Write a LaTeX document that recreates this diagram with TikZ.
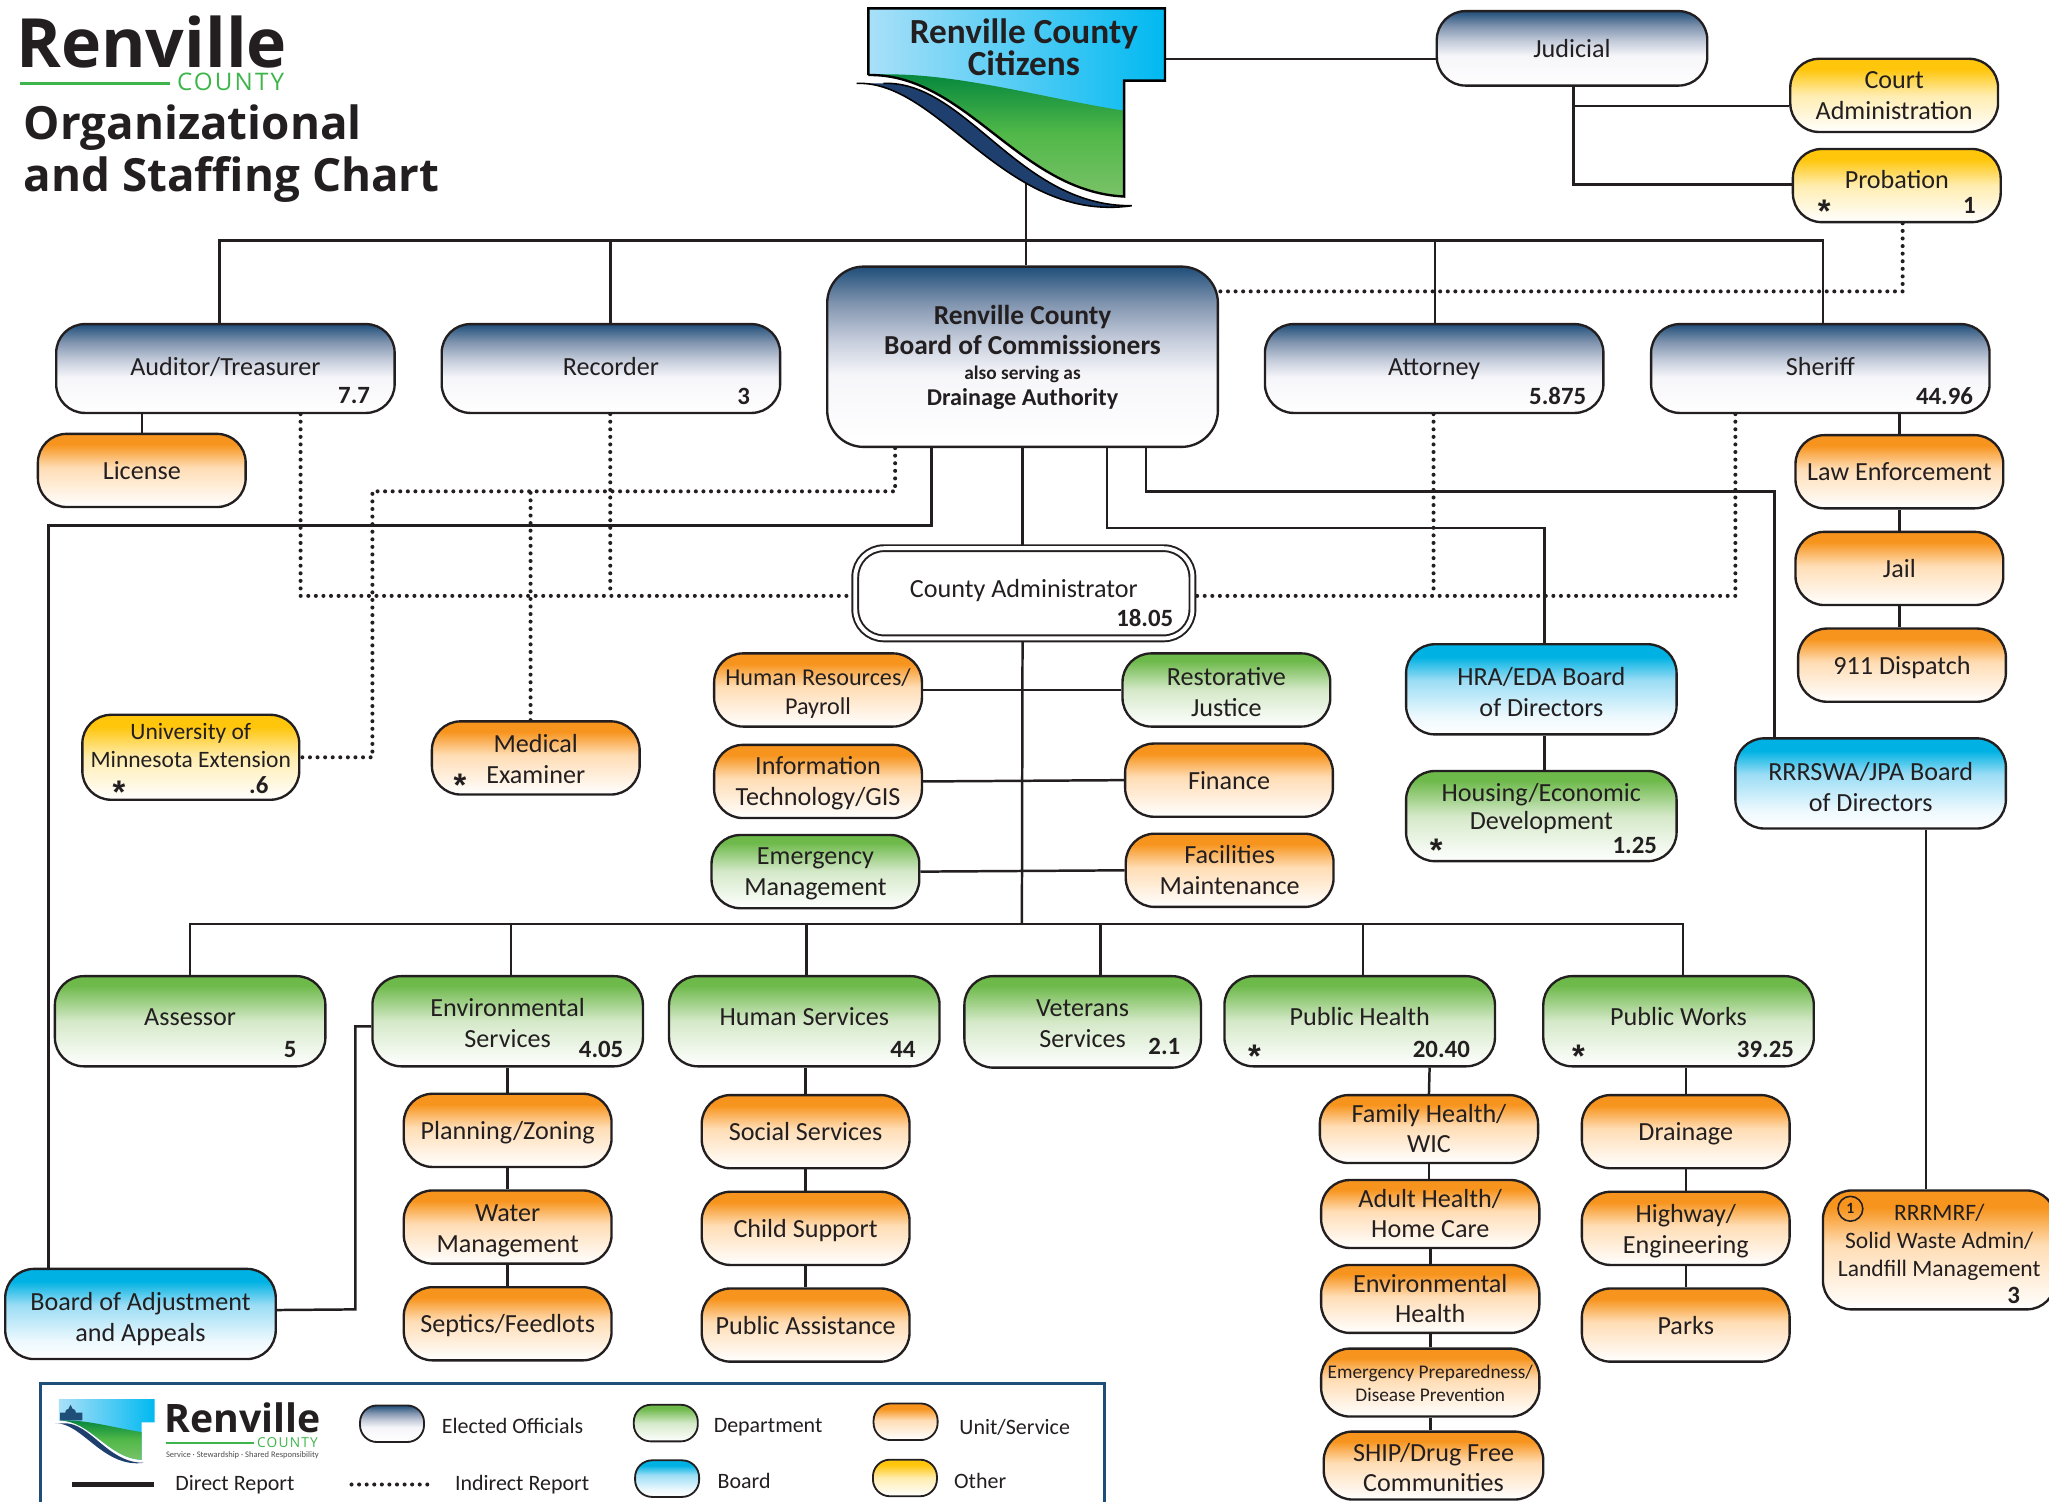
\documentclass[tikz,border=0pt]{standalone}
\usepackage{fontspec}
\setmainfont{Carlito}
\newfontfamily\logofont{Open Sans}
\newfontfamily\countyfont{Open Sans}[LetterSpace=9]
\newfontfamily\markfont{Liberation Sans}
\usetikzlibrary{positioning, backgrounds}

\definecolor{inkcolor}{HTML}{231F20}
\definecolor{navycolor}{HTML}{1F4E79}
\definecolor{logogreen}{HTML}{3DB54A}
\definecolor{elecmid}{HTML}{C3CBDA}
\definecolor{elechigh}{HTML}{7F93AE}
\definecolor{eleclow}{HTML}{F6F6FA}
\definecolor{orangetop}{HTML}{F7941D}
\definecolor{orangemid}{HTML}{FFDDB5}
\definecolor{greentop}{HTML}{6DB94A}
\definecolor{greenmid}{HTML}{D5E9C9}
\definecolor{bluetop}{HTML}{00B2E3}
\definecolor{bluemid}{HTML}{9BDDF5}
\definecolor{bluelow}{HTML}{EDF9FE}
\definecolor{yellowtop}{HTML}{FFC60B}
\definecolor{yellowmid}{HTML}{FFEDB0}
\definecolor{flagsky}{HTML}{A9E0F8}
\definecolor{flagcyan}{HTML}{00B9F1}
\definecolor{flagdark}{HTML}{00843D}
\definecolor{flagmid}{HTML}{50B848}
\definecolor{flaglight}{HTML}{7AC268}
\definecolor{flagnavy}{HTML}{1F3F6E}

\pgfdeclareverticalshading{electedfill}{100bp}{color(0bp)=(white); color(25bp)=(white); color(45bp)=(eleclow); color(55bp)=(elecmid); color(65bp)=(elechigh); color(75bp)=(navycolor); color(100bp)=(navycolor)}
\pgfdeclareverticalshading{unitfill}{100bp}{color(0bp)=(white); color(25bp)=(white); color(52bp)=(orangemid); color(68bp)=(orangetop); color(100bp)=(orangetop)}
\pgfdeclareverticalshading{deptfill}{100bp}{color(0bp)=(white); color(25bp)=(white); color(50bp)=(greenmid); color(70bp)=(greentop); color(100bp)=(greentop)}
\pgfdeclareverticalshading{boardfill}{100bp}{color(0bp)=(white); color(25bp)=(white); color(35bp)=(bluelow); color(55bp)=(bluemid); color(68bp)=(bluetop); color(100bp)=(bluetop)}
\pgfdeclareverticalshading{otherfill}{100bp}{color(0bp)=(white); color(25bp)=(white); color(50bp)=(yellowmid); color(68bp)=(yellowtop); color(100bp)=(yellowtop)}

\newcommand\lifted[2]{\raisebox{#1}[0pt][0pt]{\begin{tabular}[c]{@{}c@{}}#2\end{tabular}}}
\newcommand\topstrut{\rule{0pt}{\dimexpr0.7\baselineskip+4.5pt\relax}}

\tikzset{
  orgbox/.style={draw=inkcolor, line width=1.8pt, rounded corners=22pt, shade, align=center,
    inner sep=0pt, text=inkcolor, font=\fontsize{20}{23.5}\selectfont,
    execute at begin node=\topstrut, execute at end node=\strut},
  elected/.style={orgbox, shading=electedfill, minimum width=259pt, minimum height=68pt},
  unit/.style={orgbox, shading=unitfill, minimum width=159pt, minimum height=56pt},
  dept/.style={orgbox, shading=deptfill, minimum width=207pt, minimum height=69pt},
  boardbox/.style={orgbox, shading=boardfill, minimum width=207pt, minimum height=69pt},
  other/.style={orgbox, shading=otherfill, minimum width=159pt, minimum height=56pt},
  fte/.style={font=\bfseries\fontsize{19}{19}\selectfont, text=inkcolor, inner sep=0pt},
  star/.style={font=\markfont\bfseries\fontsize{25}{25}\selectfont, text=inkcolor, inner sep=0pt, yshift=-5pt},
  direct/.style={draw=inkcolor, line width=1.9pt},
  indirect/.style={draw=inkcolor, line width=3.1pt, line cap=round, dash pattern=on 0pt off 5.8pt},
  legendtext/.style={font=\fontsize{16.8}{18}\selectfont, text=inkcolor, anchor=west, inner sep=0pt},
  swatch/.style={rounded corners=13pt, minimum width=49pt, minimum height=28pt, line width=1.4pt},
  citizensflag/.pic={
    \fill[white] (0,51) .. controls (75,50) and (115,140) .. (195.7,144) -- (201.6,151)
      .. controls (105,165) and (55,55) .. (-8.9,57.4) -- cycle;
    \shade[left color=flagsky, right color=flagcyan] (0,0) -- (227,0) -- (227,55.3) -- (195.7,55.3) -- (195.7,144)
      .. controls (115,140) and (75,50) .. (0,51) -- cycle;
    \shade[top color=flagdark, bottom color=flaglight, middle color=flagmid] (0,51)
      .. controls (60,47) and (130,68) .. (195.7,78.3) -- (195.7,144)
      .. controls (115,140) and (75,50) .. (0,51) -- cycle;
    \fill[flagnavy] (11.5,57.4) .. controls (75,55) and (115,152) .. (201.6,151)
      .. controls (105,165) and (55,55) .. (-8.9,57.4) -- cycle;
  },
  citizensrim/.pic={
    \draw[black, line width=1.8pt] (0,51) -- (0,0) -- (227,0) -- (227,55.3) -- (195.7,55.3) -- (195.7,144)
      .. controls (115,140) and (75,50) .. (0,51);
    \draw[black, line width=1.2pt] (-8.9,57.4) .. controls (55,55) and (105,165) .. (201.6,151)
      .. controls (115,152) and (75,55) .. (11.5,57.4);
  }
}

\begin{document}
\begin{tikzpicture}[x=1pt, y=-1pt, on grid]
  \useasboundingbox (0,0) rectangle (1568,1149.4);

  % county logo and title
  \node[font=\logofont\bfseries\fontsize{52}{52}\selectfont, text=inkcolor, inner sep=0pt] (logoname) at (116,32) {Renville};
  \node[font=\countyfont\fontsize{18.5}{18.5}\selectfont, text=logogreen, inner sep=0pt] (logocounty) at (176.5,63) {COUNTY};
  \draw[logogreen, line width=2.4pt] (15,64) -- (130,64);
  \node[font=\logofont\bfseries\fontsize{35}{40}\selectfont, text=inkcolor, align=left, inner sep=0pt, anchor=north west] (title) at (18,80)
    {Organizational\\and Staffing Chart};

  % citizens
  \pic at (664.5,6.4) {citizensflag};
  \pic at (664.5,6.4) {citizensrim};
  \node[font=\bfseries\fontsize{27}{23}\selectfont, text=inkcolor, align=center, inner sep=0pt,
    minimum width=216pt, minimum height=55pt] (citizens) at (783.5,36) {Renville County\\Citizens};

  % elected officials
  \node[elected, minimum width=207pt, minimum height=57pt] (judicial) at (1203,37) {Judicial};
  \node[elected] (auditor) at (172.5,282) {\lifted{1pt}{Auditor/Treasurer}};
  \node[elected] (recorder) at (467.5,282) {\lifted{1pt}{Recorder}};
  \node[elected] (attorney) at (1097.5,282) {\lifted{1pt}{Attorney}};
  \node[elected] (sheriff) at (1393,282) {\lifted{1pt}{Sheriff}};
  \node[elected, minimum width=299pt, minimum height=138pt, rounded corners=28pt,
    font=\bfseries\fontsize{21}{23}\selectfont] (board) at (782.5,273)
    {\lifted{0pt}{Renville County\\Board of Commissioners\\[-4pt]{\fontsize{14.8}{15}\selectfont also serving as}\\[-3pt]{\fontsize{18.5}{23}\selectfont Drainage Authority}}};

  % offices under the elected officials
  \node[other] (courtadmin) at (1449.5,73) {\lifted{0pt}{Court\\Administration}};
  \node[other] (probation) at (1451.5,142) {\lifted{4pt}{Probation}};
  \node[unit] (license) at (108.5,360) {License};
  \node[unit] (lawenf) at (1453.5,361) {Law Enforcement};
  \node[unit, below=74pt of lawenf] (jail) {Jail};
  \node[unit] (dispatch) at (1455.5,509) {911 Dispatch};

  % administrator and staff
  \node[orgbox, fill=white, shade=false, double, double distance=3pt, line width=1.5pt, minimum width=258pt, minimum height=69pt] (admin) at (783.5,454) {\lifted{3pt}{County Administrator}};
  \node[unit, font=\fontsize{18.5}{22}\selectfont] (hr) at (626,528) {\lifted{-1pt}{Human Resources/\\Payroll}};
  \node[dept, minimum width=159pt, minimum height=56pt] (restorative) at (938.5,528) {\lifted{-2pt}{Restorative\\Justice}};
  \node[unit] (infotech) at (626,598) {\lifted{0pt}{Information\\Technology/GIS}};
  \node[unit] (finance) at (940.5,597) {Finance};
  \node[dept, minimum width=159pt, minimum height=56pt] (emergency) at (624,667) {\lifted{0pt}{Emergency\\Management}};
  \node[unit] (facilities) at (941,666) {\lifted{0pt}{Facilities\\Maintenance}};

  \node[other, minimum width=166pt, minimum height=65pt, font=\fontsize{18}{21.5}\selectfont] (extension) at (146,579.5)
    {\lifted{9.5pt}{University of\\Minnesota Extension}};
  \node[unit] (medical) at (410,580) {\lifted{-1pt}{Medical\\Examiner}};

  % boards
  \node[boardbox] (hraboard) at (1179.5,527.5) {\lifted{-2.5pt}{HRA/EDA Board\\of Directors}};
  \node[dept, font=\fontsize{20}{21.5}\selectfont] (housing) at (1179.5,624.5) {\lifted{6pt}{Housing/Economic\\Development}};
  \node[boardbox] (jpaboard) at (1431.5,599.5) {\lifted{-3pt}{RRRSWA/JPA Board\\of Directors}};
  \node[boardbox] (adjustment) at (107.5,1005.5) {\lifted{-3pt}{Board of Adjustment\\and Appeals}};
  \node[unit, minimum width=178pt, minimum height=91pt, font=\fontsize{18}{21.5}\selectfont] (rrrmrf) at (1484,956.5)
    {\lifted{7.5pt}{RRRMRF/\\Solid Waste Admin/\\Landfill Management}};
  \node[circle, draw=inkcolor, line width=1.2pt, minimum size=19pt, inner sep=0pt, text=inkcolor,
    font=\bfseries\fontsize{12}{12}\selectfont] (rrrmrfmark) at (1416,925) {1};

  % departments
  \node[dept] (assessor) at (145.5,781.5) {\lifted{3.5pt}{Assessor}};
  \node[dept] (envserv) at (388.5,781.5) {\lifted{-1.5pt}{Environmental\\Services}};
  \node[dept] (humanserv) at (615.5,781.5) {\lifted{3.5pt}{Human Services}};
  \node[dept, minimum width=181pt, minimum height=70pt] (veterans) at (828.5,782) {\lifted{-1pt}{Veterans\\Services}};
  \node[dept] (pubhealth) at (1040.5,781.5) {\lifted{3.5pt}{Public Health}};
  \node[dept] (pubworks) at (1284.5,781.5) {\lifted{3.5pt}{Public Works}};

  % units under the departments
  \node[unit] (planning) at (388.5,865) {Planning/Zoning};
  \node[unit, below=74pt of planning] (water) {\lifted{-1pt}{Water\\Management}};
  \node[unit, below=74pt of water] (septics) {Septics/Feedlots};
  \node[unit] (social) at (616.5,866) {Social Services};
  \node[unit, below=74pt of social] (childsup) {Child Support};
  \node[unit, below=74pt of childsup] (assistance) {Public Assistance};
  \node[unit, minimum width=167pt, minimum height=52pt] (family) at (1093.5,864) {\lifted{0pt}{Family Health/\\WIC}};
  \node[unit, minimum width=167pt, minimum height=52pt] (adult) at (1094.5,929) {\lifted{0pt}{Adult Health/\\Home Care}};
  \node[unit, minimum width=167pt, minimum height=52pt, below=65pt of adult] (envhealth) {\lifted{0pt}{Environmental\\Health}};
  \node[unit, minimum width=167pt, minimum height=52pt, below=64pt of envhealth, font=\fontsize{14.8}{17.5}\selectfont] (prepared) {\lifted{0pt}{Emergency Preparedness/\\Disease Prevention}};
  \node[unit, minimum width=168pt, minimum height=52pt] (ship) at (1097,1121.5) {\lifted{-2pt}{SHIP/Drug Free\\Communities}};
  \node[unit] (drainage) at (1290,866) {Drainage};
  \node[unit, below=74pt of drainage] (highway) {\lifted{-1pt}{Highway/\\Engineering}};
  \node[unit, below=74pt of highway] (parks) {Parks};

  % staffing numbers
  \foreach \nm/\x/\y/\val in {auditor/271/303/7.7, recorder/569/303/3, attorney/1192/303/5.875, sheriff/1488/303/44.96,
    probation/1507/157/1, admin/876/473/18.05, extension/198/601/.6, housing/1251/647/1.25, assessor/222/803/5,
    envserv/460/803/4.05, humanserv/691/803/44, veterans/891/801/2.1, pubhealth/1103/803/20.40, pubworks/1351/803/39.25,
    rrrmrf/1541/991/3}
    \node[fte] (fte\nm) at (\x,\y) {\val};
  \foreach \nm/\x/\y in {probation/1396/157, extension/91/601, medical/352/596, housing/1099/646, pubhealth/960/803, pubworks/1208/803}
    \node[star] (star\nm) at (\x,\y) {*};

  % connectors
  \begin{scope}[on background layer]
    \coordinate (topbus) at (785,184);
    \coordinate (deptbus) at (782,707);
    \coordinate (dothook) at (285,376);
    \coordinate (adjhook) at (37,402);
    \coordinate (hrahook) at (1182,404);
    \coordinate (jpahook) at (1358,376);
    \coordinate (adjturn) at (272,1002);
    \draw[direct] ([xshift=1.5pt]citizens.south) -- ([xshift=2.5pt]board.north);
    \draw[direct] ([xshift=-4.5pt]auditor.north) |- (topbus) -| ([xshift=2pt]sheriff.north);
    \draw[direct] ([xshift=-0.5pt]recorder.north) -- ([xshift=-0.5pt]recorder.north |- topbus);
    \draw[direct] ([xshift=0.5pt]attorney.north) -- ([xshift=0.5pt]attorney.north |- topbus);
    \draw[direct] ([yshift=-9pt]citizens.east) -- ([yshift=-8pt]judicial.west);
    \draw[direct] ([xshift=1pt]judicial.south) |- ([yshift=1pt]probation.west);
    \draw[direct] ([xshift=1pt]judicial.south) |- ([yshift=-8pt]courtadmin.west);
    \draw[direct] (auditor.south -| license) -- (license);
    \draw[direct] (sheriff.south -| lawenf.north) -- (lawenf.north);
    \draw[direct] (lawenf) -- (jail);
    \draw[direct] (jail) -- (jail |- dispatch.north);

    \draw[indirect] ([xshift=4.5pt]probation.south) |- ([yshift=50pt]board.east);
    \draw[indirect] ([xshift=57.5pt]auditor.south) |- ([yshift=-2pt]admin.west);
    \draw[indirect] ([xshift=-0.5pt]recorder.south) -- ([xshift=-0.5pt,yshift=-2pt]recorder.south |- admin.west);
    \draw[indirect] ([xshift=-0.5pt]attorney.south) -- ([xshift=-0.5pt,yshift=-2pt]attorney.south |- admin.east);
    \draw[indirect] ([xshift=-65pt]sheriff.south) |- ([yshift=-2pt]admin.east);
    \draw[indirect] ([xshift=-97.5pt]board.south) |- (dothook) |- (extension.east);
    \draw[indirect] ([xshift=-4pt]medical.north) -- ([xshift=-4pt]medical.north |- dothook);

    \draw[direct] ([xshift=-69.5pt]board.south) |- (adjhook) -- ([xshift=-70.5pt]adjustment.north);
    \draw[direct] (board.south) -- (board.south |- admin.north);
    \draw[direct] ([xshift=64.5pt]board.south) |- (hrahook) -- ([xshift=2.5pt]hraboard.north);
    \draw[direct] ([xshift=94.5pt]board.south) |- (jpahook) -- ([xshift=-73.5pt]jpaboard.north);
    \draw[direct] ([xshift=2.5pt]hraboard.south) -- ([xshift=2.5pt]housing.north);
    \draw[direct] ([xshift=42.5pt]jpaboard.south) -- ([xshift=-10pt]rrrmrf.north);

    \draw[direct] (board.south |- admin.south) -- (deptbus);
    \draw[direct] (hr.east) -- (restorative.west);
    \draw[direct] (infotech.east) -- (finance.west);
    \draw[direct] (emergency.east) -- (facilities.west);
    \draw[direct] (assessor.north) |- (deptbus) -| ([xshift=3.5pt]pubworks.north);
    \foreach \dept/\shiftx in {envserv/2.5, humanserv/1.5, veterans/13.5, pubhealth/2.5}
      \draw[direct] ([xshift=\shiftx pt]\dept.north) -- ([xshift=\shiftx pt]\dept.north |- deptbus);
    \draw[direct] ([yshift=-4pt]envserv.west) -| (adjturn) -- ([yshift=3pt]adjustment.east);

    \foreach \upper/\lower in {envserv/planning, planning/water, water/septics, humanserv/social, social/childsup, childsup/assistance,
      pubworks/drainage, drainage/highway, highway/parks}
      \draw[direct] (\upper.south -| \lower.north) -- (\lower.north);
    \draw[direct] ([xshift=53.5pt]pubhealth.south) -- (family.north);
    \foreach \upper/\lower in {family/adult, adult/envhealth, envhealth/prepared, prepared/ship}
      \draw[direct] (\upper.south) -- (\upper.south |- \lower.north);
  \end{scope}

  % legend
  \draw[navycolor, line width=2.4pt] (31,1150) -- (31,1059) -- (845,1059) -- (845,1150);
  \pic[scale=0.323] at (45.1,1070.6) {citizensflag};
  \fill[navycolor] (46,1087) -- (46,1081) -- (50,1081) -- (50.5,1079) -- (52.5,1078) -- (54,1075)
    -- (55.5,1078) -- (57.5,1079) -- (58,1081) -- (63,1081) -- (63,1087) -- cycle;
  \node[font=\logofont\bfseries\fontsize{30}{30}\selectfont, text=inkcolor, inner sep=0pt] (legendname) at (185.5,1085) {Renville};
  \node[font=\countyfont\fontsize{10.5}{11}\selectfont, text=logogreen, inner sep=0pt] (legendcounty) at (220,1104) {COUNTY};
  \draw[logogreen, line width=1.4pt] (127,1104) -- (194,1104);
  \node[font=\fontsize{6.5}{7}\selectfont, text=inkcolor!80, inner sep=0pt] (legendmotto) at (185.5,1113.5) {Service · Stewardship · Shared Responsibility};

  \node[orgbox, swatch, shading=electedfill] (swelected) at (300,1089.5) {};
  \node[orgbox, swatch, shading=deptfill] (swdept) at (509.5,1089) {};
  \node[orgbox, swatch, shading=unitfill] (swunit) at (693,1088) {};
  \node[orgbox, swatch, shading=boardfill] (swboard) at (510.5,1131.5) {};
  \node[orgbox, swatch, shading=otherfill] (swother) at (692.5,1131) {};
  \node[legendtext] (lbelected) at (338,1091) {Elected Officials};
  \node[legendtext] (lbdept) at (546,1092) {Department};
  \node[legendtext] (lbunit) at (734,1092) {Unit/Service};
  \node[legendtext] (lbboard) at (549,1133) {Board};
  \node[legendtext] (lbother) at (730,1133) {Other};
  \node[legendtext] (lbdirect) at (134,1136) {Direct Report};
  \node[legendtext] (lbindirect) at (348,1136) {Indirect Report};
  \draw[inkcolor, line width=3.6pt] (55,1136) -- (118,1136);
  \draw[indirect] (269,1136) -- (332,1136);
\end{tikzpicture}
\end{document}
